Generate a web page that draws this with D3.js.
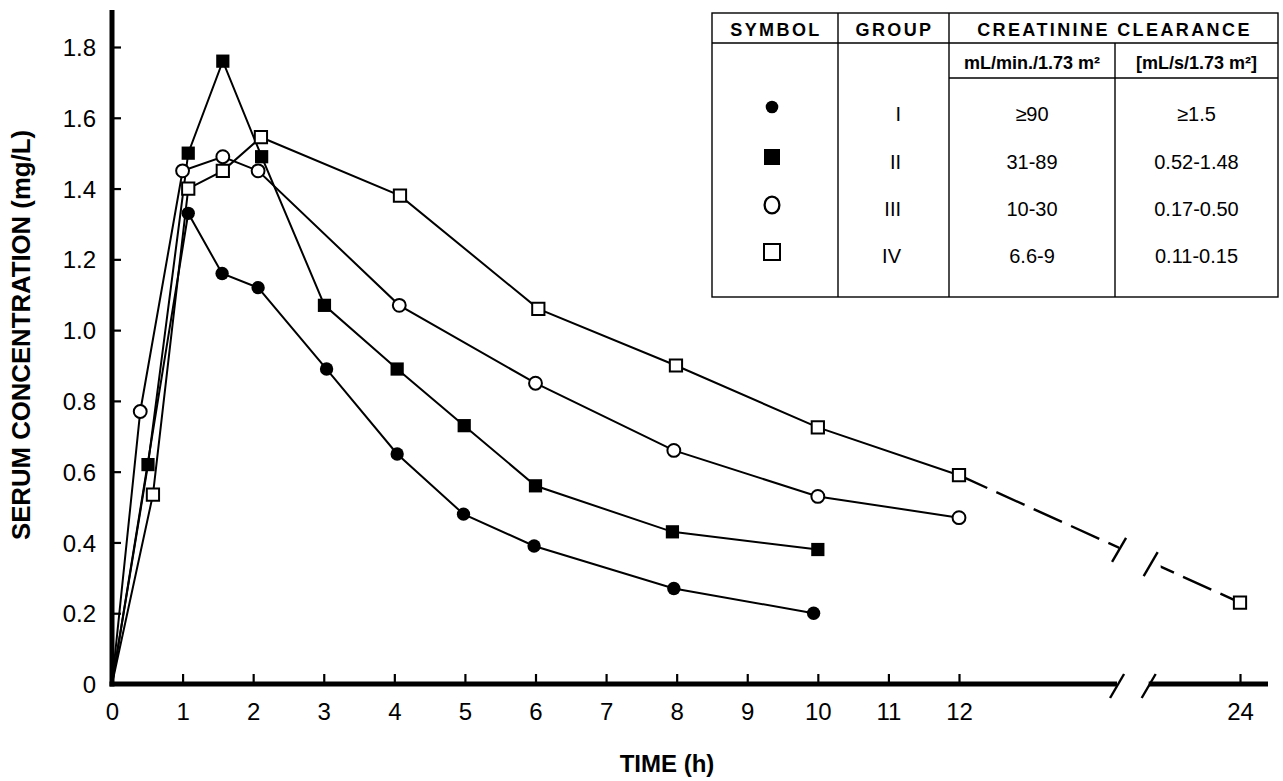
<!DOCTYPE html>
<html>
<head>
<meta charset="utf-8">
<script src="https://cdn.jsdelivr.net/npm/d3@7"></script>
<style>
  body { margin: 0; background: #fff; }
  text { font-family: "Liberation Sans", Arial, Helvetica, sans-serif; fill: #000; }
</style>
</head>
<body>
<div class="chart"></div>
<script>
// values
let groups = ["I", "II", "III", "IV"];

let timeI = [0, 1.08, 1.56, 2.07, 3.04, 4.04, 4.98, 5.98, 7.96, 9.94];
let concI = [0, 1.33, 1.16, 1.12, 0.89, 0.65, 0.48, 0.39, 0.27, 0.20];

let timeII = [0, 0.51, 1.08, 1.57, 2.12, 3.01, 4.04, 4.99, 6.0, 7.94, 10.0];
let concII = [0, 0.62, 1.50, 1.76, 1.49, 1.07, 0.89, 0.73, 0.56, 0.43, 0.38];

let timeIII = [0, 0.40, 1.0, 1.57, 2.07, 4.07, 6.0, 7.96, 10.0, 12.0];
let concIII = [0, 0.77, 1.45, 1.49, 1.45, 1.07, 0.85, 0.66, 0.53, 0.47];

let timeIV = [0, 0.58, 1.08, 1.57, 2.11, 4.08, 6.04, 7.99, 10.0, 12.0, 24];
let concIV = [0, 0.535, 1.40, 1.45, 1.545, 1.38, 1.06, 0.90, 0.725, 0.59, 0.23];

let clearanceMin = ["\u226590", "31-89", "10-30", "6.6-9"];
let clearanceSI = ["\u22651.5", "0.52-1.48", "0.17-0.50", "0.11-0.15"];

let xTicks = [0, 1, 2, 3, 4, 5, 6, 7, 8, 9, 10, 11, 12, 24];
let yTicks = [0, 0.2, 0.4, 0.6, 0.8, 1.0, 1.2, 1.4, 1.6, 1.8];

// where the time axis is broken (hours)
let axisBreak = [18.75, 20.1];

let width = 1283, height = 781;

let svg = d3.select(".chart")
    .append("svg")
    .attr("width", width)
    .attr("height", height);

svg.append("rect")
    .attr("width", width)
    .attr("height", height)
    .attr("fill", "#fff");

let xScale = d3.scaleLinear()
    .domain([0, 12, 24])
    .range([112, 959, 1240]);

let yScale = d3.scaleLinear()
    .domain([0, 1.8])
    .range([684, 47]);

// axes (ticks point inward)
let yAxis = d3.axisLeft(yScale)
    .tickValues(yTicks)
    .tickSize(-9)
    .tickSizeOuter(0)
    .tickPadding(16)
    .tickFormat(d => d === 0 ? "0" : d3.format(".1f")(d));

let gy = svg.append("g")
    .attr("transform", "translate(" + xScale(0) + ",0)")
    .call(yAxis);
gy.select(".domain").remove();
gy.selectAll(".tick line").attr("stroke", "#000").attr("stroke-width", 2.2);
gy.selectAll(".tick").filter(d => d === 0).select("line").remove();
gy.selectAll(".tick text").attr("font-size", 24).attr("dy", "0.36em");

let xAxis = d3.axisBottom(xScale)
    .tickValues(xTicks)
    .tickSize(-10)
    .tickSizeOuter(0)
    .tickPadding(19)
    .tickFormat(d3.format("d"));

let gx = svg.append("g")
    .attr("transform", "translate(0," + yScale(0) + ")")
    .call(xAxis);
gx.select(".domain").remove();
gx.selectAll(".tick line").attr("stroke", "#000").attr("stroke-width", 2.2);
gx.selectAll(".tick").filter(d => d === 0).select("line").remove();
gx.selectAll(".tick text").attr("font-size", 24);

// heavy axis lines
let x0 = xScale(0), y0 = yScale(0);
let bx0 = xScale(axisBreak[0]), bx1 = xScale(axisBreak[1]);

svg.append("line")
    .attr("x1", x0).attr("x2", x0)
    .attr("y1", 10).attr("y2", y0 + 2.5)
    .attr("stroke", "#000").attr("stroke-width", 5);

svg.append("line")
    .attr("x1", x0 - 2.5).attr("x2", bx0)
    .attr("y1", y0).attr("y2", y0)
    .attr("stroke", "#000").attr("stroke-width", 5);

svg.append("line")
    .attr("x1", bx1).attr("x2", xScale(24) + 28)
    .attr("y1", y0).attr("y2", y0)
    .attr("stroke", "#000").attr("stroke-width", 5);

let slash = (cx, cy) => {
    svg.append("line")
        .attr("x1", cx - 7).attr("y1", cy + 12)
        .attr("x2", cx + 7).attr("y2", cy - 12)
        .attr("stroke", "#000").attr("stroke-width", 2.4);
};
slash(bx0, y0 + 2);
slash(bx1, y0 + 2);

// axis titles
svg.append("text")
    .attr("transform", "translate(30,335) rotate(-90)")
    .attr("text-anchor", "middle")
    .attr("font-size", 26)
    .attr("font-weight", "bold")
    .attr("textLength", 410)
    .attr("lengthAdjust", "spacingAndGlyphs")
    .text("SERUM CONCENTRATION (mg/L)");

svg.append("text")
    .attr("x", 667)
    .attr("y", 772)
    .attr("text-anchor", "middle")
    .attr("font-size", 24)
    .attr("font-weight", "bold")
    .text("TIME (h)");

// series
let toPoints = (t, c) => t.map((d, i) => ({ t: d, c: c[i] }));

let series = [
    toPoints(timeI, concI),
    toPoints(timeII, concII),
    toPoints(timeIII, concIII),
    toPoints(timeIV, concIV)
];

let markerStyle = [
    { type: d3.symbolCircle, size: 140, fill: "#000", stroke: "none" },
    { type: d3.symbolSquare, size: 175, fill: "#000", stroke: "none" },
    { type: d3.symbolCircle, size: 130, fill: "#fff", stroke: "#000" },
    { type: d3.symbolSquare, size: 150, fill: "#fff", stroke: "#000" }
];

let line = d3.line()
    .x(d => xScale(d.t))
    .y(d => yScale(d.c));

series.forEach(pts => {
    svg.append("path")
        .datum(pts.filter(d => d.t <= 12))
        .attr("d", line)
        .attr("fill", "none")
        .attr("stroke", "#000")
        .attr("stroke-width", 2);
});

// group IV continues to 24 h, dashed and broken
let tail = series[3].filter(d => d.t >= 12);

let clip = svg.append("clipPath").attr("id", "tail-clip");
clip.append("rect").attr("x", 0).attr("y", 0).attr("width", bx0 + 2).attr("height", height);
clip.append("rect").attr("x", bx1 + 12).attr("y", 0).attr("width", width).attr("height", height);

svg.append("path")
    .datum(tail)
    .attr("d", line)
    .attr("fill", "none")
    .attr("stroke", "#000")
    .attr("stroke-width", 2.4)
    .attr("stroke-dasharray", "31,10")
    .attr("clip-path", "url(#tail-clip)");

let tailY = px => {
    let a = tail[0], b = tail[tail.length - 1];
    let f = (px - xScale(a.t)) / (xScale(b.t) - xScale(a.t));
    return yScale(a.c) + f * (yScale(b.c) - yScale(a.c));
};
slash(bx0 + 2, tailY(bx0 + 2) + 2);
slash(bx1 + 2, tailY(bx1 + 2) + 2);

series.forEach((pts, i) => {
    let m = markerStyle[i];
    svg.append("g")
        .selectAll("path")
        .data(pts.filter(d => d.t > 0))
        .enter()
        .append("path")
        .attr("d", d3.symbol().type(m.type).size(m.size))
        .attr("transform", d => "translate(" + xScale(d.t) + "," + yScale(d.c) + ")")
        .attr("fill", m.fill)
        .attr("stroke", m.stroke)
        .attr("stroke-width", 2);
});

// legend table
let cols = [712, 838, 949, 1115, 1278];
let rowsY = [13, 43, 78, 297];
let rowText = [114, 162, 209, 256];

let table = svg.append("g")
    .attr("stroke", "#000")
    .attr("stroke-width", 1.4)
    .attr("fill", "none");

table.append("rect")
    .attr("x", cols[0]).attr("y", rowsY[0])
    .attr("width", cols[4] - cols[0]).attr("height", rowsY[3] - rowsY[0]);
table.append("line").attr("x1", cols[0]).attr("x2", cols[4]).attr("y1", rowsY[1]).attr("y2", rowsY[1]);
table.append("line").attr("x1", cols[2]).attr("x2", cols[4]).attr("y1", rowsY[2]).attr("y2", rowsY[2]);
table.append("line").attr("x1", cols[1]).attr("x2", cols[1]).attr("y1", rowsY[0]).attr("y2", rowsY[3]);
table.append("line").attr("x1", cols[2]).attr("x2", cols[2]).attr("y1", rowsY[0]).attr("y2", rowsY[3]);
table.append("line").attr("x1", cols[3]).attr("x2", cols[3]).attr("y1", rowsY[1]).attr("y2", rowsY[3]);

let header = (x, label) => {
    svg.append("text")
        .attr("x", x).attr("y", 36)
        .attr("text-anchor", "middle")
        .attr("font-size", 18)
        .attr("font-weight", "bold")
        .attr("letter-spacing", 2.4)
        .text(label);
};
header((cols[0] + cols[1]) / 2 + 1, "SYMBOL");
header((cols[1] + cols[2]) / 2 + 1, "GROUP");
header((cols[2] + cols[4]) / 2 + 1, "CREATININE CLEARANCE");

svg.append("text")
    .attr("x", (cols[2] + cols[3]) / 2).attr("y", 69)
    .attr("text-anchor", "middle")
    .attr("font-size", 18)
    .attr("font-weight", "bold")
    .text("mL/min./1.73 m\u00b2");

svg.append("text")
    .attr("x", (cols[3] + cols[4]) / 2).attr("y", 69)
    .attr("text-anchor", "middle")
    .attr("font-size", 18)
    .attr("font-weight", "bold")
    .text("[mL/s/1.73 m\u00b2]");

// symbol column
let symX = 772;
svg.append("circle").attr("cx", symX).attr("cy", rowText[0] - 7).attr("r", 6.3).attr("fill", "#000");
svg.append("rect").attr("x", symX - 8).attr("y", rowText[1] - 13).attr("width", 16).attr("height", 16).attr("fill", "#000");
svg.append("ellipse").attr("cx", symX).attr("cy", rowText[2] - 4).attr("rx", 7.4).attr("ry", 8.4)
    .attr("fill", "none").attr("stroke", "#000").attr("stroke-width", 2.3);
svg.append("rect").attr("x", symX - 8).attr("y", rowText[3] - 12).attr("width", 16).attr("height", 16)
    .attr("fill", "#fff").attr("stroke", "#000").attr("stroke-width", 2);

let cell = (x, y, label, anchor) => {
    svg.append("text")
        .attr("x", x).attr("y", y)
        .attr("dy", "0.36em")
        .attr("text-anchor", anchor)
        .attr("font-size", 20)
        .text(label);
};
groups.forEach((g, i) => cell(901, rowText[i], g, "end"));
clearanceMin.forEach((v, i) => cell((cols[2] + cols[3]) / 2, rowText[i], v, "middle"));
clearanceSI.forEach((v, i) => cell((cols[3] + cols[4]) / 2, rowText[i], v, "middle"));
</script>
</body>
</html>
